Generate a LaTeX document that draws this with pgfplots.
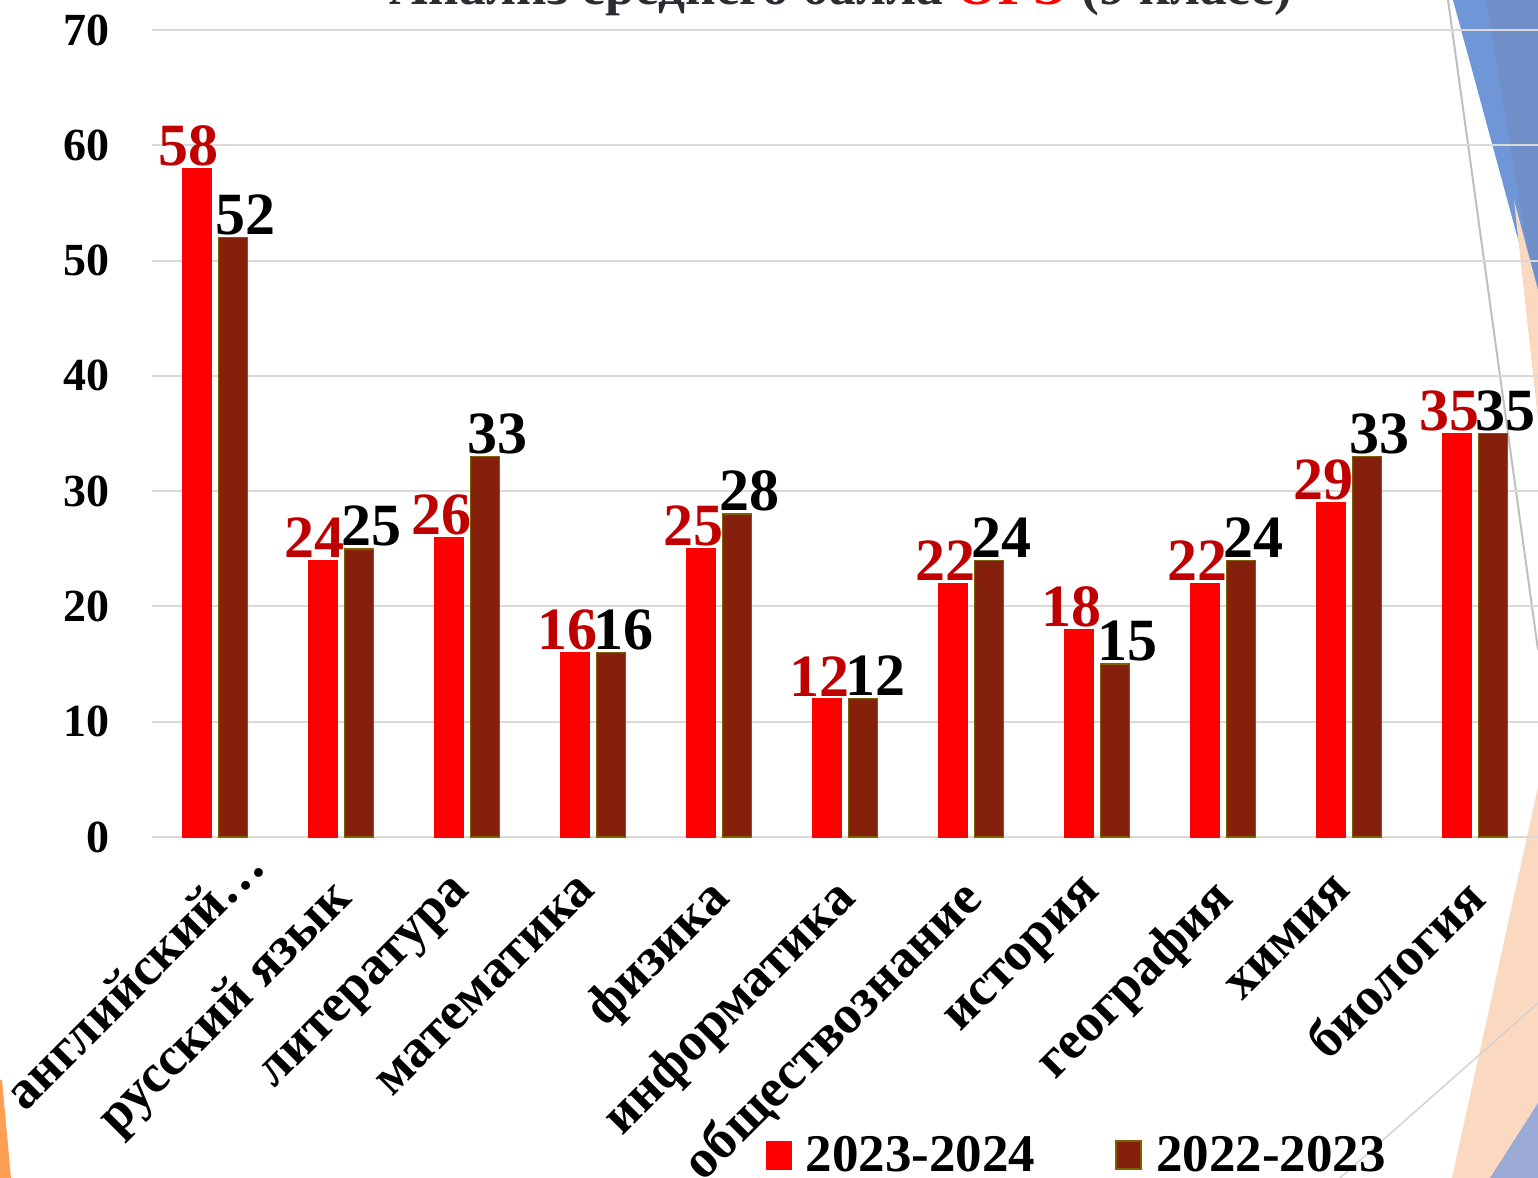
\documentclass[border=0pt]{standalone}
\usepackage{fontspec}
\setmainfont{Liberation Serif}
\usepackage{pgfplots}
\pgfplotsset{compat=1.18}
\definecolor{redbar}{HTML}{FF0000}
\definecolor{brownbar}{HTML}{85200C}
\definecolor{brownedge}{HTML}{7F6000}
\definecolor{lblred}{HTML}{C00000}
\definecolor{gridc}{HTML}{D9D9D9}
\definecolor{titlec}{HTML}{2B2D33}
\definecolor{blueA}{HTML}{6F96D6}
\definecolor{blueB}{HTML}{708FC8}
\definecolor{peach}{HTML}{FBD9C0}
\definecolor{blueC}{HTML}{9AAAD4}
\definecolor{orangeL}{HTML}{FF9F55}
\begin{document}
\begin{tikzpicture}
\useasboundingbox (0pt,0pt) rectangle (769pt,-589pt);
\begin{scope}[x=0.5pt,y=-0.5pt]
  \fill[blueA] (1453,0) -- (1538,0) -- (1538,313) -- cycle;
  \fill[blueB] (1486,0) -- (1538,0) -- (1538,313) -- cycle;
  \fill[peach] (1514,200) -- (1538,290) -- (1538,420) -- cycle;
  \draw[line width=1pt, color=black!25] (1448,0) -- (1538,650);
  \fill[peach] (1538,787) -- (1538,1178) -- (1452,1178) -- cycle;
  \fill[blueC] (1490,1178) -- (1538,1103) -- (1538,1178) -- cycle;
  \draw[line width=0.7pt, color=black!18] (1340,1178) -- (1538,1003);
  \fill[orangeL] (0,1080) -- (2,1080) -- (11,1178) -- (0,1178) -- cycle;
\end{scope}
\node[anchor=base, font=\fontsize{26.7}{29}\selectfont\bfseries, text=titlec, inner sep=0pt] at (420.5pt,-2pt) {Анализ среднего балла \textcolor{red}{ОГЭ} (9 класс)};
\begin{axis}[
  at={(76pt,-418.5pt)}, anchor=south west,
  scale only axis, width=693pt, height=403.5pt,
  xmin=-0.5, xmax=10.5, ymin=0, ymax=70,
  ytick={0,10,...,70},
  xtick={1,...,10},
  xticklabels={русский язык, литература, математика, физика, информатика, обществознание, история, география, химия, биология},
  extra x ticks={0},
  extra x tick labels={английский…},
  extra x tick style={xticklabel style={xshift=25.5pt, yshift=-3.5pt}},
  axis line style={draw=none},
  tick style={draw=none},
  ymajorgrids, grid style={gridc, line width=1pt},
  /pgf/number format/assume math mode=true,
  yticklabel style={font=\fontsize{23}{25}\selectfont\bfseries, inner sep=0pt, xshift=-21pt},
  xticklabel style={font=\fontsize{27}{29}\selectfont\bfseries, rotate=45, anchor=north east, inner sep=0pt, xshift=-15pt, yshift=-5pt},
  ybar, bar width=14.5pt,
  nodes near coords,
  every node near coord/.append style={font=\fontsize{30}{32}\selectfont\bfseries, inner sep=1pt, anchor=south},
  legend columns=2,
  legend style={at={(0.668,-0.394)}, anchor=center, draw=none, fill=none, font=\fontsize{26.5}{28}\selectfont\bfseries, /tikz/every even column/.append style={column sep=38pt}, /tikz/every odd column/.append style={column sep=5pt}},
  legend image code/.code={\draw[#1] (0pt,-7pt) rectangle (12.5pt,7pt);},
]
\addplot[fill=redbar, draw=redbar, bar shift=-9pt, every node near coord/.append style={text=lblred, xshift=-4pt}] coordinates {(0,58) (1,24) (2,26) (3,16) (4,25) (5,12) (6,22) (7,18) (8,22) (9,29) (10,35)};
\addlegendentry{2023-2024}
\addplot[fill=brownbar, draw=brownedge, line width=0.8pt, bar shift=9pt, every node near coord/.append style={text=black, xshift=6pt}] coordinates {(0,52) (1,25) (2,33) (3,16) (4,28) (5,12) (6,24) (7,15) (8,24) (9,33) (10,35)};
\addlegendentry{2022-2023}
\end{axis}
\end{tikzpicture}
\end{document}
